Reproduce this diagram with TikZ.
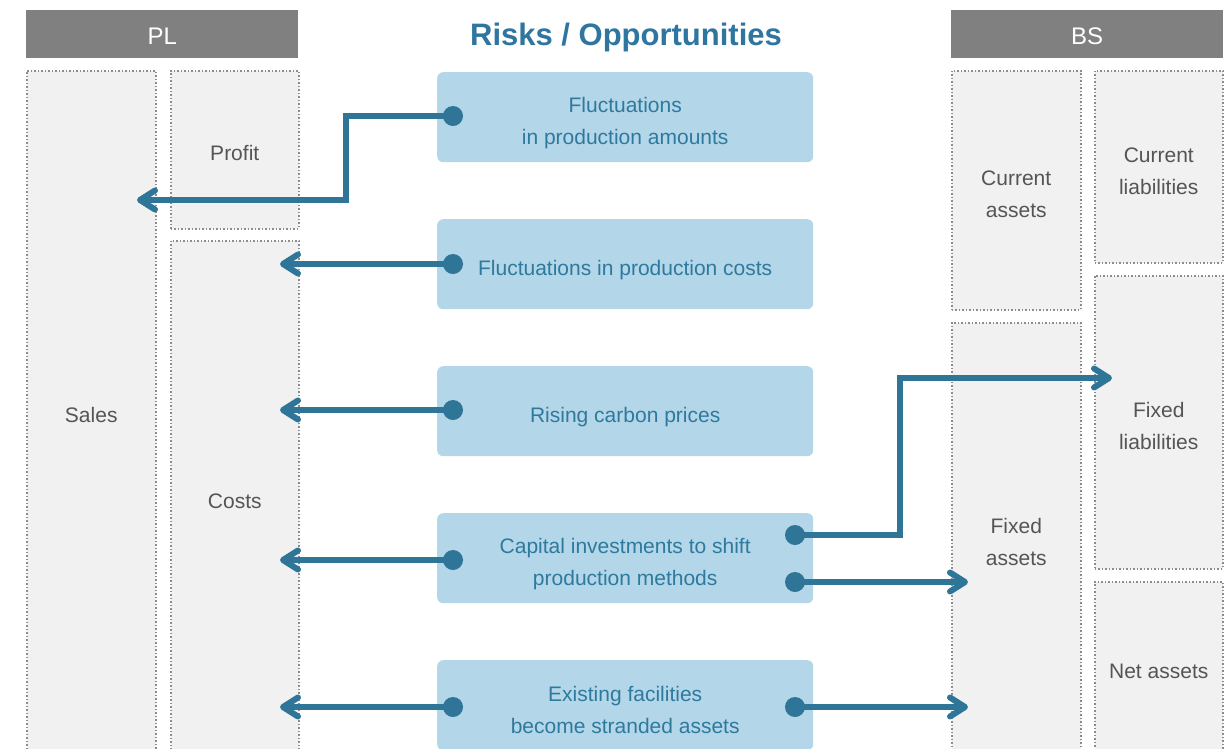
\documentclass[tikz,border=0pt]{standalone}
\usepackage{fontspec}
\setmainfont{Liberation Sans}
\usetikzlibrary{arrows.meta}

\definecolor{hdrgrey}{HTML}{808080}
\definecolor{panegrey}{HTML}{F1F1F1}
\definecolor{dotgrey}{HTML}{8C8C8C}
\definecolor{labgrey}{HTML}{555555}
\definecolor{riskblue}{HTML}{B3D6E8}
\definecolor{risktext}{HTML}{2E7A9E}
\definecolor{linkblue}{HTML}{2E7597}
\definecolor{titleblue}{HTML}{2E75A0}

\tikzset{
  header/.style={fill=hdrgrey, text=white, anchor=north west, inner sep=0pt,
    minimum width=272pt, minimum height=48pt, text height=21pt,
    font=\fontsize{24}{28}\selectfont},
  pane/.style={draw=dotgrey, fill=panegrey, line width=1.5pt,
    dash pattern=on 1.5pt off 2pt, anchor=north west, inner sep=0pt,
    text=labgrey, align=center, text height=#1,
    font=\fontsize{21}{32}\selectfont},
  pane/.default=21pt,
  risk/.style={fill=riskblue, rounded corners=6pt, anchor=north west, inner sep=0pt,
    minimum width=376pt, minimum height=90pt, text=risktext, align=center,
    text height=#1, font=\fontsize{21}{32}\selectfont},
  risk/.default=27pt,
  link/.style={draw=linkblue, line width=6pt,
    -{Straight Barb[length=15pt,width=19pt,round]}},
}

\begin{document}
\begin{tikzpicture}[x=1pt,y=-1pt]
    \useasboundingbox (0,0) rectangle (1229,748);

    % headers and title
    \node[header] (pl) at (26,10) {PL};
    \node[header] (bs) at (951,10) {BS};
    \node[text=titleblue, font=\bfseries\fontsize{31}{36}\selectfont] (title) at (626,37) {Risks / Opportunities};

    % PL side
    \node[pane, minimum width=129pt, minimum height=682pt] (sales) at (26,70) {Sales};
    \node[pane, minimum width=128pt, minimum height=158pt] (profit) at (170,70) {Profit};
    \node[pane, minimum width=128pt, minimum height=514pt] (costs) at (170,240) {Costs};

    % BS side
    \node[pane=55pt, minimum width=129pt, minimum height=239pt] (curassets) at (951,70) {Current\\assets};
    \node[pane=54pt, minimum width=129pt, minimum height=432pt] (fixassets) at (951,322) {Fixed\\assets};
    \node[pane=55pt, minimum width=128pt, minimum height=192pt] (curliab) at (1094,70) {Current\\liabilities};
    \node[pane=54pt, minimum width=128pt, minimum height=293pt] (fixliab) at (1094,275) {Fixed\\liabilities};
    \node[pane, minimum width=128pt, minimum height=172pt] (netassets) at (1094,581) {Net assets};

    % risks
    \node[risk=59pt] (r1) at (437,72) {Fluctuations\\in production amounts};
    \node[risk] (r2) at (437,219) {Fluctuations in production costs};
    \node[risk] (r3) at (437,366) {Rising carbon prices};
    \node[risk=59pt] (r4) at (437,513) {Capital investments to shift\\production methods};
    \node[risk=57pt] (r5) at (437,660) {Existing facilities\\become stranded assets};

    % link ends
    \coordinate (d1) at (453,116);
    \coordinate (d2) at (453,264);
    \coordinate (d3) at (453,410);
    \coordinate (d4) at (453,560);
    \coordinate (d5) at (453,707);
    \coordinate (d6) at (795,535);
    \coordinate (d7) at (795,582);
    \coordinate (d8) at (795,707);
    \coordinate (k1) at (346,200);
    \coordinate (k6) at (900,378);
    \coordinate (t1) at (137,200);
    \coordinate (t2) at (280,264);
    \coordinate (t3) at (280,410);
    \coordinate (t4) at (280,560);
    \coordinate (t5) at (280,707);
    \coordinate (t6) at (1112,378);
    \coordinate (t7) at (968,582);
    \coordinate (t8) at (968,707);

    % links
    \draw[link] (d1) -| (k1) -- (t1);
    \foreach \i in {2,...,5}{
        \draw[link] (d\i) -- (t\i);
    }
    \draw[link] (d6) -| (k6) -- (t6);
    \draw[link] (d7) -- (t7);
    \draw[link] (d8) -- (t8);

    \foreach \i in {1,...,8}{
        \fill[linkblue] (d\i) circle (10pt);
    }
\end{tikzpicture}
\end{document}
